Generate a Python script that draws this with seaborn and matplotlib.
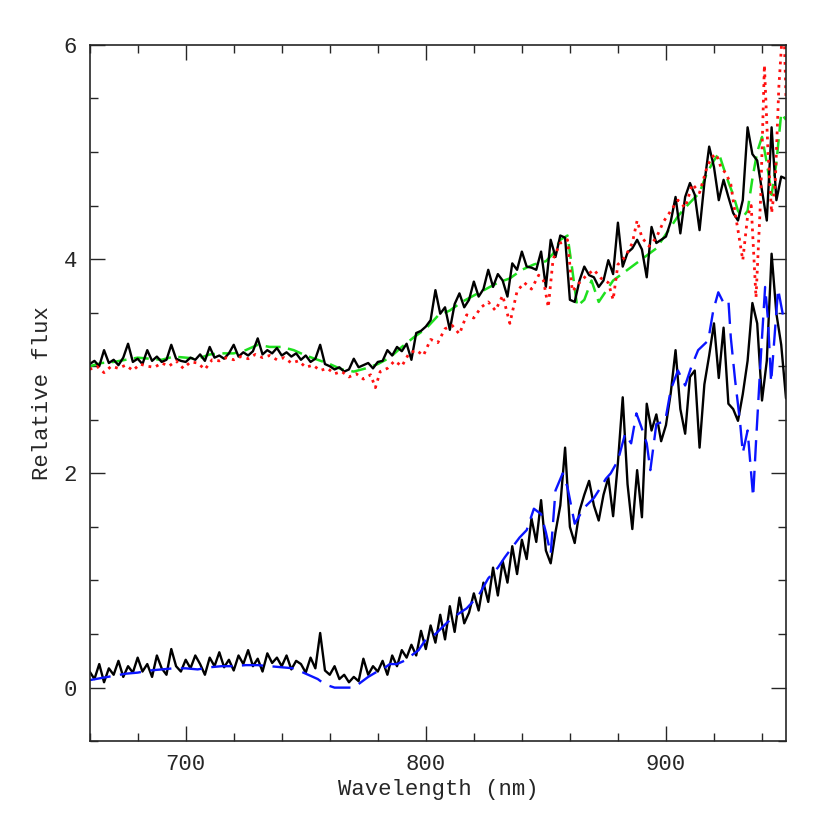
import numpy as np
import pandas as pd
import seaborn as sns
import matplotlib
matplotlib.use("Agg")
import matplotlib.pyplot as plt
from matplotlib.ticker import MultipleLocator

obs_wl = np.arange(660, 951, 2)
obs_upper = [
    3.02, 3.05, 3.00, 3.15, 3.03, 3.06, 3.01, 3.08, 3.21, 3.04, 3.07, 3.02, 3.15, 3.05, 3.09, 3.04, 3.06, 3.20, 3.07, 3.05, 3.04,
    3.08, 3.06, 3.11, 3.05, 3.18, 3.08, 3.10, 3.07, 3.12, 3.20, 3.09, 3.13, 3.10, 3.14, 3.26, 3.11, 3.15, 3.12, 3.17, 3.10,
    3.13, 3.09, 3.12, 3.06, 3.10, 3.04, 3.07, 3.20, 3.02, 3.00, 2.97, 2.99, 2.95, 2.97, 3.07, 2.99, 3.01, 3.03, 2.98, 3.04,
    3.05, 3.15, 3.10, 3.18, 3.14, 3.21, 3.06, 3.31, 3.33, 3.37, 3.43, 3.71, 3.49, 3.55, 3.34, 3.58, 3.68, 3.55, 3.62, 3.79,
    3.65, 3.72, 3.90, 3.74, 3.86, 3.80, 3.65, 3.96, 3.90, 4.07, 3.93, 3.92, 3.90, 4.07, 3.74, 4.18, 4.02, 4.22, 4.20, 3.62,
    3.60, 3.80, 3.93, 3.85, 3.83, 3.74, 3.80, 3.99, 3.86, 4.34, 3.93, 4.06, 4.10, 4.18, 4.09, 3.83, 4.30, 4.15, 4.18, 4.21,
    4.35, 4.58, 4.24, 4.58, 4.71, 4.60, 4.27, 4.71, 5.05, 4.86, 4.55, 4.74, 4.58, 4.43, 4.36, 4.55, 5.23, 4.98, 4.92, 4.64,
    4.36, 5.23, 4.55, 4.77, 4.75,
]
obs_lower = [
    0.15, 0.08, 0.22, 0.05, 0.18, 0.12, 0.25, 0.10, 0.20, 0.14, 0.28, 0.15, 0.22, 0.10, 0.30, 0.18, 0.12, 0.36, 0.20, 0.15, 0.26,
    0.18, 0.30, 0.22, 0.12, 0.28, 0.20, 0.33, 0.19, 0.26, 0.16, 0.30, 0.22, 0.35, 0.20, 0.27, 0.15, 0.32, 0.23, 0.28, 0.20,
    0.30, 0.17, 0.25, 0.22, 0.14, 0.28, 0.18, 0.51, 0.16, 0.12, 0.20, 0.08, 0.12, 0.05, 0.10, 0.06, 0.27, 0.12, 0.20, 0.15,
    0.25, 0.12, 0.30, 0.20, 0.35, 0.28, 0.40, 0.30, 0.53, 0.36, 0.58, 0.42, 0.68, 0.45, 0.76, 0.52, 0.84, 0.60, 0.70, 0.88,
    0.72, 0.98, 0.80, 1.12, 0.86, 1.18, 0.98, 1.32, 1.06, 1.38, 1.20, 1.58, 1.36, 1.75, 1.28, 1.16, 1.45, 1.70, 2.24, 1.50,
    1.35, 1.65, 1.80, 1.93, 1.70, 1.56, 1.80, 1.96, 1.60, 2.10, 2.71, 1.90, 1.48, 2.03, 1.59, 2.65, 2.40, 2.55, 2.30, 2.45,
    2.75, 3.15, 2.60, 2.37, 2.90, 2.96, 2.24, 2.83, 3.10, 3.40, 2.89, 3.36, 2.65, 2.60, 2.49, 2.74, 3.05, 3.59, 3.40, 2.68,
    3.05, 4.05, 3.49, 3.20, 2.70,
]

# Model spectra
green_wl = [660, 665, 670, 675, 680, 685, 690, 695, 700, 705, 710, 715, 720, 725, 730, 735, 740, 745, 750, 755,
            760, 765, 770, 775, 780, 785, 790, 795, 800, 805, 810, 815, 820, 825, 830, 835, 840, 845, 850, 853,
            856, 859, 861, 863, 866, 869, 872, 875, 878, 881, 884, 887, 890, 893, 896, 899, 902, 905, 908, 911,
            914, 917, 920, 922, 924, 926, 928, 930, 932, 934, 936, 938, 940, 942, 944, 946, 948, 950]
green_flux = [3.00, 3.03, 3.04, 3.06, 3.08, 3.07, 3.06, 3.09, 3.08, 3.07, 3.11, 3.12, 3.12, 3.15, 3.20, 3.18, 3.18, 3.15, 3.10, 3.06,
              3.02, 2.97, 2.95, 2.98, 3.02, 3.08, 3.18, 3.27, 3.35, 3.47, 3.52, 3.60, 3.66, 3.72, 3.78, 3.82, 3.90, 3.95, 3.98, 4.05,
              4.18, 4.22, 3.90, 3.56, 3.62, 3.80, 3.60, 3.70, 3.80, 3.85, 3.90, 3.95, 4.00, 4.05, 4.10, 4.20, 4.30, 4.40, 4.48, 4.55,
              4.62, 4.80, 4.92, 4.99, 4.85, 4.72, 4.60, 4.45, 4.39, 4.45, 4.75, 5.00, 5.14, 4.90, 4.60, 4.90, 5.36, 5.30]

red_wl = [660, 663, 666, 669, 672, 675, 678, 681, 684, 687, 690, 693, 696, 699, 702, 705, 708, 711, 714, 717,
          720, 723, 726, 729, 732, 735, 738, 741, 744, 747, 750, 753, 756, 759, 762, 765, 768, 771, 774, 777,
          779, 781, 784, 787, 790, 793, 796, 799, 802, 805, 808, 811, 814, 817, 820, 823, 826, 829, 832, 835,
          838, 841, 844, 847, 849, 851, 853, 856, 859, 861, 864, 867, 870, 873, 876, 878, 880, 883, 886, 888,
          890, 893, 896, 899, 902, 905, 908, 911, 914, 917, 919, 921, 923, 925, 927, 929, 930, 932, 934, 935.5,
          937.5, 939.5, 941, 942.5, 944, 945.5, 947, 949, 950]
red_flux = [2.97, 3.00, 2.94, 3.00, 2.98, 3.01, 2.96, 3.02, 3.00, 2.99, 3.03, 3.00, 3.05, 2.98, 3.04, 3.03, 2.97, 3.06, 3.05, 3.08,
            3.06, 3.09, 3.07, 3.11, 3.08, 3.10, 3.06, 3.08, 3.03, 3.05, 2.99, 3.01, 2.96, 2.98, 2.93, 2.95, 2.90, 2.93, 2.88, 2.92,
            2.80, 2.95, 2.98, 3.05, 3.00, 3.12, 3.15, 3.10, 3.25, 3.22, 3.35, 3.38, 3.30, 3.48, 3.45, 3.55, 3.60, 3.52, 3.66, 3.40,
            3.70, 3.78, 3.72, 3.85, 3.80, 3.55, 4.00, 4.15, 4.18, 3.70, 3.78, 3.85, 3.90, 3.82, 3.78, 3.62, 3.95, 4.02, 4.15, 4.36,
            4.20, 4.12, 4.20, 4.35, 4.45, 4.55, 4.48, 4.70, 4.62, 4.85, 4.95, 4.98, 4.85, 4.80, 4.70, 4.40, 4.27, 3.99, 4.40, 4.50,
            3.64, 4.60, 5.81, 5.00, 4.43, 4.70, 5.60, 6.30, 5.50]

blue_wl = [660, 665, 670, 675, 680, 685, 690, 695, 700, 705, 710, 715, 720, 725, 730, 735, 740, 745, 750, 755,
           758, 762, 766, 770, 773, 776, 779, 782, 785, 788, 791, 794, 797, 800, 804, 809, 813, 817, 822, 826,
           830, 833, 836, 839, 842, 845, 848, 850, 852, 854, 857, 859, 862, 866, 870, 872, 875, 877, 880, 883,
           885.5, 887.7, 889.8, 892, 893.5, 896, 899.7, 902, 905, 908, 910.5, 913.4, 917.6, 919.7, 921.8, 923.8, 926, 927, 928.8, 930.9,
           932, 934, 936.3, 937.6, 939.6, 941.3, 942.5, 943.8, 946.7, 948.7, 950]
blue_flux = [0.07, 0.09, 0.11, 0.13, 0.14, 0.16, 0.17, 0.18, 0.18, 0.17, 0.19, 0.20, 0.20, 0.21, 0.21, 0.20, 0.19, 0.18, 0.13, 0.08,
             0.03, 0.00, 0.00, 0.00, 0.05, 0.10, 0.14, 0.17, 0.22, 0.22, 0.25, 0.30, 0.35, 0.45, 0.50, 0.61, 0.68, 0.74, 0.86, 1.02,
             1.12, 1.22, 1.31, 1.40, 1.47, 1.67, 1.62, 1.45, 1.25, 1.84, 2.00, 1.87, 1.53, 1.68, 1.77, 1.84, 1.95, 2.00, 2.12, 2.37,
             2.28, 2.56, 2.43, 2.28, 2.03, 2.46, 2.49, 2.78, 2.96, 2.82, 2.99, 3.15, 3.24, 3.52, 3.69, 3.60, 3.62, 3.27, 2.87, 2.47,
             2.19, 2.40, 1.78, 2.33, 3.12, 3.74, 3.43, 2.85, 3.72, 3.48, 3.40]

sns.set_style("ticks")
plt.rcParams["font.family"] = ["Liberation Mono", "DejaVu Sans Mono"]

fig = plt.figure(figsize=(8.3, 8.3), dpi=100)
ax = fig.add_axes([0.108, 0.107, 0.839, 0.839])

sns.lineplot(x=green_wl, y=green_flux, ax=ax, color="#1ee01e", lw=1.8, linestyle=(0, (6, 3)), estimator=None)
sns.lineplot(x=obs_wl, y=obs_upper, ax=ax, color="black", lw=1.7, estimator=None)
sns.lineplot(x=obs_wl, y=obs_lower, ax=ax, color="black", lw=1.7, estimator=None)
sns.lineplot(x=red_wl, y=red_flux, ax=ax, color="#ff1010", lw=2.0, linestyle=(0, (1, 1.8)), estimator=None)
sns.lineplot(x=blue_wl, y=blue_flux, ax=ax, color="#0a14ff", lw=1.7, linestyle=(0, (9, 4)), estimator=None)

ax.set_xlim(660, 950)
ax.set_ylim(-0.5, 6)
ax.xaxis.set_major_locator(MultipleLocator(100))
ax.xaxis.set_minor_locator(MultipleLocator(20))
ax.yaxis.set_major_locator(MultipleLocator(2))
ax.yaxis.set_minor_locator(MultipleLocator(0.5))
ax.tick_params(which="both", direction="in", top=True, right=True, width=1.0, labelsize=16)
ax.tick_params(which="major", length=10.5, pad=9)
ax.tick_params(which="minor", length=5.5)
for s in ax.spines.values():
    s.set_linewidth(1.2)

ax.set_xlabel("Wavelength (nm)", fontsize=16, labelpad=3)
ax.set_ylabel("Relative flux", fontsize=16, labelpad=8)

fig.savefig("out.png", dpi=100)
